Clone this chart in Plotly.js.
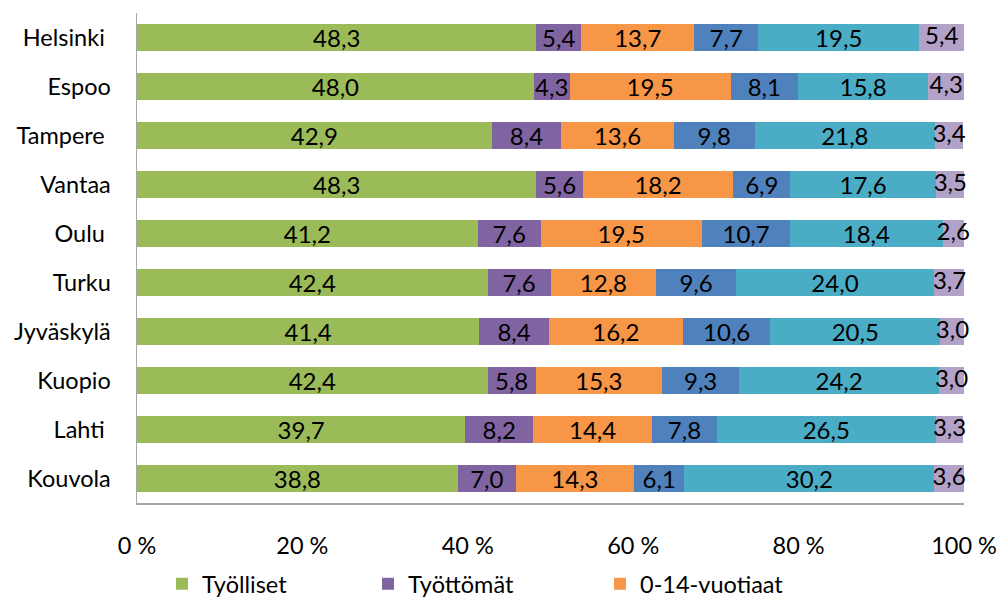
<!DOCTYPE html>
<html>
<head>
<meta charset="utf-8">
<script src="https://cdn.plot.ly/plotly-3.0.1.min.js"></script>
<style>html,body{margin:0;padding:0;background:#fff;}#chart{width:1002px;height:599px;}</style>
</head>
<body>
<div id="chart"></div>
<script>
var cities = ["Helsinki", "Espoo", "Tampere", "Vantaa", "Oulu", "Turku", "Jyväskylä", "Kuopio", "Lahti", "Kouvola"];
var cityLabels = ["Helsinki\u00a0", "Espoo", "Tampere\u00a0", "Vantaa", "Oulu\u00a0", "Turku", "Jyväskylä", "Kuopio", "Lahti\u00a0", "Kouvola"];
var seriesNames = ["Työlliset", "Työttömät", "0-14-vuotiaat", "Opiskelijat", "Eläkeläiset", "Muut"];
var tyolliset   = [48.3, 48.0, 42.9, 48.3, 41.2, 42.4, 41.4, 42.4, 39.7, 38.8];
var tyottomat   = [5.4, 4.3, 8.4, 5.6, 7.6, 7.6, 8.4, 5.8, 8.2, 7.0];
var lapset      = [13.7, 19.5, 13.6, 18.2, 19.5, 12.8, 16.2, 15.3, 14.4, 14.3];
var opiskelijat = [7.7, 8.1, 9.8, 6.9, 10.7, 9.6, 10.6, 9.3, 7.8, 6.1];
var elakelaiset = [19.5, 15.8, 21.8, 17.6, 18.4, 24.0, 20.5, 24.2, 26.5, 30.2];
var muut        = [5.4, 4.3, 3.4, 3.5, 2.6, 3.7, 3.0, 3.0, 3.3, 3.6];
var xTickVals = [0, 20, 40, 60, 80, 100];

var seriesValues = [tyolliset, tyottomat, lapset, opiskelijat, elakelaiset, muut];
var colors = ["#9BBB59", "#8064A2", "#F79646", "#4F81BD", "#4BACC6", "#B3A2C7"];
var FONT = "Lato, 'Open Sans', sans-serif";
var AXIS_SIZE = 23.5, LABEL_SIZE = 24;
var legendIds = ["legend", "legend2", "legend3"];

function fmt(v) { return v.toFixed(1).replace(".", ","); }

var last = seriesValues.length - 1;
var traces = seriesValues.map(function (vals, i) {
  var t = {
    type: "bar",
    orientation: "h",
    name: seriesNames[i],
    y: cities,
    x: vals,
    text: vals.map(fmt),
    textposition: i === last ? "none" : "inside",
    insidetextanchor: "middle",
    textangle: 0,
    constraintext: "none",
    textfont: {family: FONT, size: LABEL_SIZE, color: "#000"},
    marker: {color: colors[i], line: {width: 0}},
    showlegend: i < 3,
    hovertemplate: "%{y}: %{x:.1f}<extra>" + seriesNames[i] + "</extra>"
  };
  if (i < 3) t.legend = legendIds[i];
  return t;
});

// labels of the narrow last segment, centred on the segment and allowed to overflow
var lastMid = cities.map(function (c, k) {
  var s = 0;
  for (var j = 0; j < last; j++) s += seriesValues[j][k];
  return s + seriesValues[last][k] / 2;
});
traces.push({
  type: "scatter",
  mode: "text",
  x: lastMid,
  y: cities,
  text: muut.map(fmt),
  textposition: "middle center",
  textfont: {family: FONT, size: LABEL_SIZE, color: "#000"},
  cliponaxis: false,
  showlegend: false,
  hoverinfo: "skip"
});

function legendAt(xPx) {
  return {
    orientation: "h",
    xref: "container",
    yref: "container",
    x: xPx / 1002,
    xanchor: "left",
    y: (599 - 584) / 599,
    yanchor: "middle",
    font: {family: FONT, size: AXIS_SIZE, color: "#000"},
    bgcolor: "rgba(0,0,0,0)",
    borderwidth: 0
  };
}

var layout = {
  width: 1002,
  height: 599,
  barmode: "stack",
  bargap: 0.45,
  paper_bgcolor: "#fff",
  plot_bgcolor: "#fff",
  font: {family: FONT, size: AXIS_SIZE, color: "#000"},
  margin: {l: 137, r: 38, t: 13, b: 96, pad: 0, autoexpand: false},
  xaxis: {
    range: [0, 100],
    tickvals: xTickVals,
    ticktext: xTickVals.map(function (v) { return v + " %"; }),
    showgrid: false,
    zeroline: false,
    showline: true,
    linecolor: "#A6A6A6",
    linewidth: 1.5,
    ticks: "outside",
    ticklen: 21,
    tickcolor: "rgba(0,0,0,0)",
    tickfont: {family: FONT, size: AXIS_SIZE, color: "#000"},
    fixedrange: true
  },
  yaxis: {
    type: "category",
    categoryorder: "array",
    categoryarray: cities,
    autorange: "reversed",
    tickvals: cities,
    ticktext: cityLabels,
    showgrid: false,
    zeroline: false,
    showline: true,
    linecolor: "#A6A6A6",
    linewidth: 1.5,
    ticks: "outside",
    ticklen: 20,
    tickcolor: "rgba(0,0,0,0)",
    tickfont: {family: FONT, size: AXIS_SIZE, color: "#000"},
    fixedrange: true
  },
  legend: legendAt(162),
  legend2: legendAt(368),
  legend3: legendAt(600)
};

Plotly.newPlot("chart", traces, layout, {displayModeBar: false, staticPlot: true});
</script>
</body>
</html>
